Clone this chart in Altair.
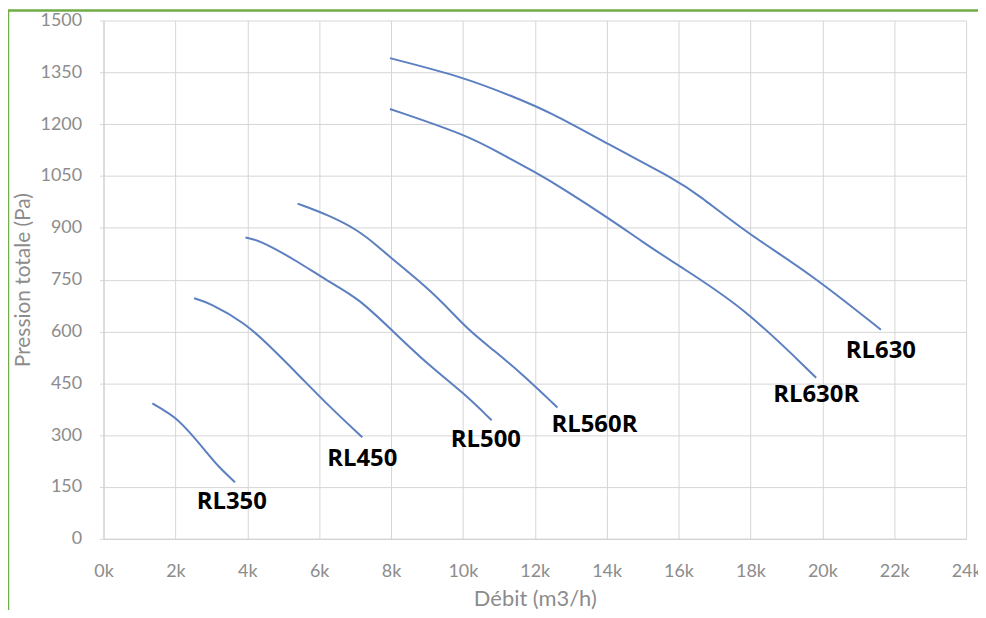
import altair as alt
import pandas as pd

# ---- data ----
rl350_x = [1.36, 1.63, 1.97, 2.38, 2.80, 3.21, 3.66]
rl350_y = [392, 375, 354, 311, 259, 207, 164]

rl450_x = [2.52, 2.94, 3.95, 4.60, 5.43, 6.26, 7.20]
rl450_y = [696, 683, 624, 560, 474, 385, 294]

rl500_x = [3.95, 4.32, 5.34, 6.26, 7.09, 8.06, 9.03, 10.0, 10.8]
rl500_y = [872, 865, 807, 744, 697, 600, 504, 424, 343]

rl560r_x = [5.40, 6.26, 7.09, 7.65, 8.0, 8.75, 9.45, 10.14, 10.83, 11.66, 12.63]
rl560r_y = [970, 937, 893, 845, 813, 749, 683, 605, 548, 476, 380]

rl630r_x = [7.97, 10.14, 10.97, 12.08, 12.71, 14.1, 14.93, 15.96, 17.8, 19.83]
rl630r_y = [1244, 1167, 1119, 1057, 1018, 925, 864, 793, 672, 466]

rl630_x = [7.97, 10.05, 11.34, 12.45, 14.02, 15.96, 16.51, 17.98, 19.65, 21.63]
rl630_y = [1391, 1335, 1282, 1234, 1143, 1037, 999, 879, 769, 605]

labels = ["RL350", "RL450", "RL500", "RL560R", "RL630R", "RL630"]
label_x = [3.57, 7.20, 10.64, 13.66, 19.83, 21.63]
label_y = [106, 231, 285, 329, 415, 542]

series = {
    "RL350": (rl350_x, rl350_y),
    "RL450": (rl450_x, rl450_y),
    "RL500": (rl500_x, rl500_y),
    "RL560R": (rl560r_x, rl560r_y),
    "RL630R": (rl630r_x, rl630r_y),
    "RL630": (rl630_x, rl630_y),
}

rows = []
for name, (xs, ys) in series.items():
    for i, (xv, yv) in enumerate(zip(xs, ys)):
        rows.append({"model": name, "debit": xv * 1000, "pression": yv, "order": i})
df = pd.DataFrame(rows)

lab_df = pd.DataFrame({"model": labels,
                       "debit": [v * 1000 for v in label_x],
                       "pression": label_y})

W, H = 867, 521
FONT = "Lato"
GRAY = "#8c8c8c"
MAJOR = "#d6d6d6"
MINOR = "#ebebeb"

x_scale = alt.Scale(domain=[0, 24000], nice=False)
y_scale = alt.Scale(domain=[0, 1500], nice=False)

x_axis = alt.Axis(
    title="Débit (m3/h)",
    values=list(range(0, 24001, 1000)),
    labelExpr="datum.value % 2000 === 0 ? format(datum.value/1000, 'd') + 'k' : ''",
    labelFlush=False,
    labelOverlap=False,
    grid=True,
    gridColor={"condition": {"test": "datum.value % 2000 === 0", "value": MAJOR}, "value": MINOR},
    gridWidth=1,
    ticks=False,
    domainColor="#cfcfcf",
    labelColor=GRAY, labelFont=FONT, labelFontSize=18, labelPadding=24,
    titleColor=GRAY, titleFont=FONT, titleFontSize=22, titleFontWeight="normal",
    titlePadding=8,
)
y_axis = alt.Axis(
    title="Pression totale (Pa)",
    values=list(range(0, 1501, 75)),
    labelExpr="datum.value % 150 === 0 ? format(datum.value, 'd') : ''",
    labelFlush=False,
    labelOverlap=False,
    grid=True,
    gridColor={"condition": {"test": "datum.value % 150 === 0", "value": MAJOR}, "value": MINOR},
    gridWidth=1,
    ticks=True,
    tickSize=4,
    tickColor={"condition": {"test": "datum.value % 150 === 0", "value": MAJOR}, "value": "transparent"},
    domainColor="#cfcfcf",
    labelColor=GRAY, labelFont=FONT, labelFontSize=18, labelPadding=18,
    titleColor=GRAY, titleFont=FONT, titleFontSize=21, titleFontWeight="normal",
    titlePadding=7,
)

lines = alt.Chart(df).mark_line(color="#5b7fc0", strokeWidth=2, interpolate="basis").encode(
    x=alt.X("debit:Q", scale=x_scale, axis=x_axis),
    y=alt.Y("pression:Q", scale=y_scale, axis=y_axis),
    detail="model:N",
    order="order:Q",
)

texts = alt.Chart(lab_df).mark_text(
    font="Open Sans", fontSize=24, fontWeight="bold", color="#000000", align="center", baseline="middle"
).encode(
    x=alt.X("debit:Q", scale=x_scale),
    y=alt.Y("pression:Q", scale=y_scale),
    text="model:N",
)

frame = alt.Chart(pd.DataFrame({"a": [0]})).mark_rect(
    fill="transparent", stroke="#70ad47", strokeWidth=2.5
).encode(
    x=alt.value(-96), x2=alt.value(W + 60),
    y=alt.value(-10), y2=alt.value(H + 200),
)

chart = alt.layer(lines, texts, frame).properties(
    width=W, height=H,
    autosize=alt.AutoSizeParams(type="none"),
    padding={"left": 96, "top": 11, "right": 12, "bottom": 70},
    background="white",
).configure_view(stroke=None, clip=False)

chart.save("out.html", embed_options={"renderer": "svg", "actions": False})
